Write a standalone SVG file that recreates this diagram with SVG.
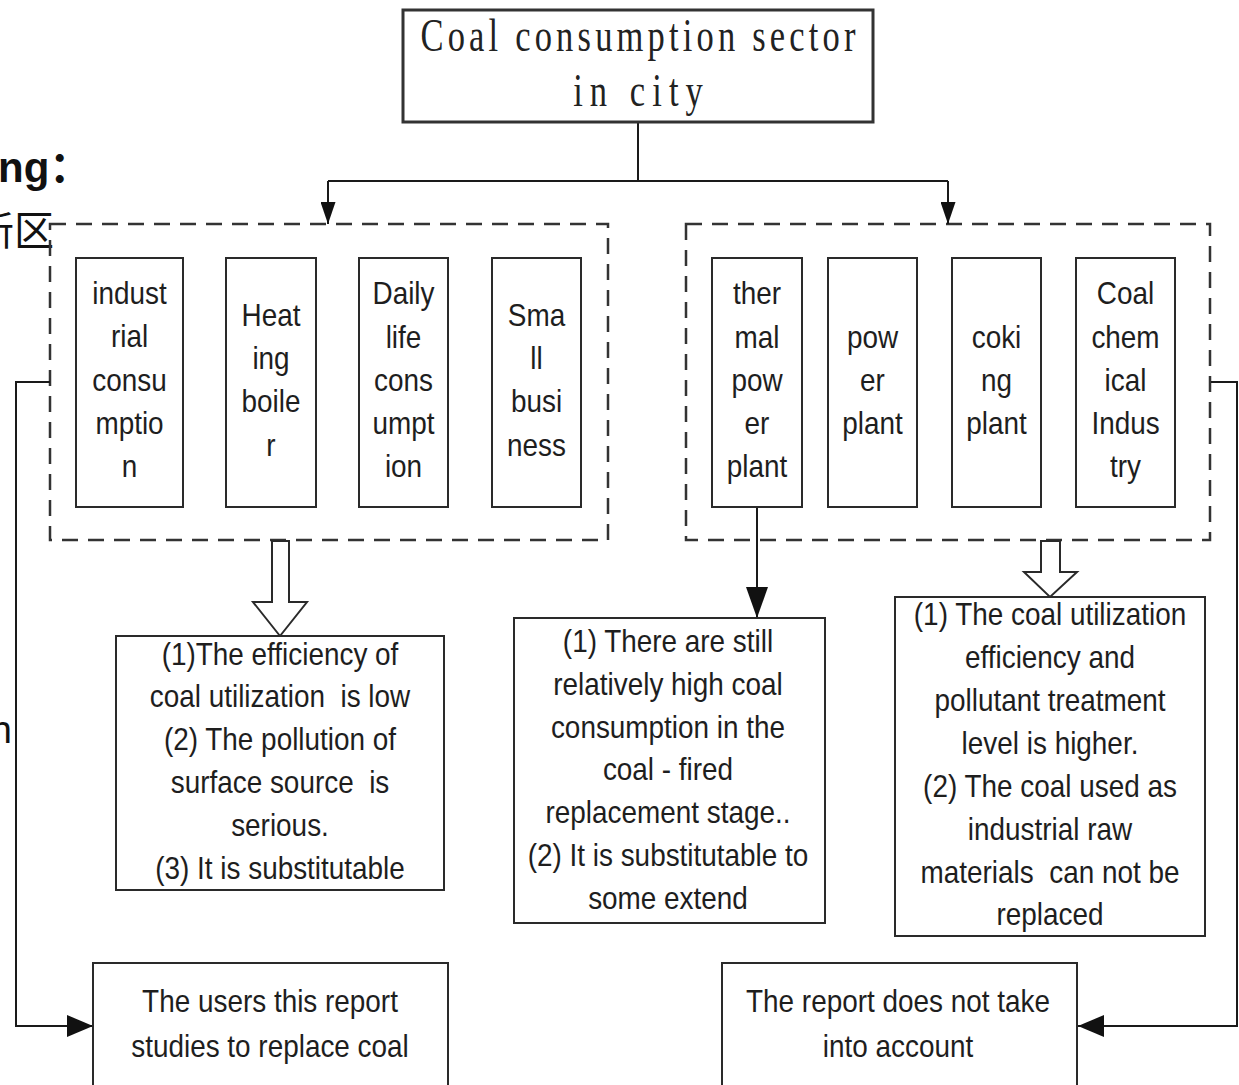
<svg xmlns="http://www.w3.org/2000/svg" width="1239" height="1085" viewBox="0 0 1239 1085">
<style>
.bg{fill:#fff}
.box{fill:#fff;stroke:#2a2a2a;stroke-width:2}
.top{fill:#fff;stroke:#333;stroke-width:3}
.grp{fill:none;stroke:#333;stroke-width:2.5;stroke-dasharray:16 10}
.t{font-family:"Liberation Sans",Arial,sans-serif;font-size:31px;fill:#1e1e1e;text-anchor:middle}
.m{font-family:"Liberation Serif","Times New Roman",serif;font-size:46px;fill:#222;text-anchor:middle}
.conn{fill:none;stroke:#1a1a1a;stroke-width:2}
.hollow{fill:#fff;stroke:#2a2a2a;stroke-width:2;stroke-linejoin:miter}
.edge{font-family:"Liberation Sans",Arial,"Noto Sans CJK SC",sans-serif;fill:#111}
</style>
<defs>
<marker id="arS" markerUnits="userSpaceOnUse" markerWidth="22" markerHeight="15" viewBox="0 0 10 10" refX="10" refY="5" orient="auto" preserveAspectRatio="none"><path d="M0,0 L10,5 L0,10 z" fill="#111"/></marker>
<marker id="arM" markerUnits="userSpaceOnUse" markerWidth="31" markerHeight="22" viewBox="0 0 10 10" refX="10" refY="5" orient="auto" preserveAspectRatio="none"><path d="M0,0 L10,5 L0,10 z" fill="#111"/></marker>
<marker id="arB" markerUnits="userSpaceOnUse" markerWidth="26" markerHeight="22" viewBox="0 0 10 10" refX="10" refY="5" orient="auto" preserveAspectRatio="none"><path d="M0,0 L10,5 L0,10 z" fill="#111"/></marker>
</defs>
<rect class="bg" x="0" y="0" width="1239" height="1085"/>

<g id="edge-text">
<text class="edge" x="-2" y="182" font-size="42" font-weight="bold">ng：</text>
<text class="edge" x="-26" y="245" font-size="40" font-family="'Noto Sans CJK SC',sans-serif">新区</text>
<text class="edge" x="12" y="743" font-size="38" text-anchor="end">n</text>
</g>

<g id="group-left">
<rect class="grp" x="50" y="224" width="558" height="316"/>
</g>
<g id="group-right">
<rect class="grp" x="686" y="224" width="524" height="316"/>
</g>

<g id="connectors">
<path class="conn" d="M638,122 V181"/>
<path class="conn" d="M328,181 H948"/>
<path class="conn" d="M328,181 V224" marker-end="url(#arS)"/>
<path class="conn" d="M948,181 V224" marker-end="url(#arS)"/>
<path class="conn" d="M757,507 V618" marker-end="url(#arM)"/>
<path class="conn" d="M50,382 H16 V1026 H93" marker-end="url(#arB)"/>
<path class="conn" d="M1211,382 H1237 V1026 H1078" marker-end="url(#arB)"/>
<polygon class="hollow" points="272,541 272,602 253,602 280,636 307,602 289,602 289,541"/>
<polygon class="hollow" points="1041,541 1041,572 1024,572 1050,597 1077,572 1060,572 1060,541"/>
</g>

<g id="node-top">
<rect class="top" x="403" y="10" width="470" height="112"/>
<g transform="translate(638 0) scale(0.75 1)">
<text class="m" x="0" y="51" textLength="580" lengthAdjust="spacing">Coal consumption sector</text>
<text class="m" x="0" y="106" textLength="173" lengthAdjust="spacing">in city</text>
</g>
</g>

<g id="node-industrial">
<rect class="box" x="76" y="258" width="107" height="249"/>
<g transform="translate(129.5 0) scale(0.9 1)">
<text class="t" y="304">indust</text><text class="t" y="347">rial</text><text class="t" y="391">consu</text><text class="t" y="434">mptio</text><text class="t" y="477">n</text>
</g>
</g>
<g id="node-heating">
<rect class="box" x="226" y="258" width="90" height="249"/>
<g transform="translate(271 0) scale(0.9 1)">
<text class="t" y="326">Heat</text><text class="t" y="369">ing</text><text class="t" y="412">boile</text><text class="t" y="456">r</text>
</g>
</g>
<g id="node-daily">
<rect class="box" x="359" y="258" width="89" height="249"/>
<g transform="translate(403.5 0) scale(0.9 1)">
<text class="t" y="304">Daily</text><text class="t" y="348">life</text><text class="t" y="391">cons</text><text class="t" y="434">umpt</text><text class="t" y="477">ion</text>
</g>
</g>
<g id="node-small">
<rect class="box" x="492" y="258" width="89" height="249"/>
<g transform="translate(536.5 0) scale(0.9 1)">
<text class="t" y="326">Sma</text><text class="t" y="369">ll</text><text class="t" y="412">busi</text><text class="t" y="456">ness</text>
</g>
</g>

<g id="node-thermal">
<rect class="box" x="712" y="258" width="90" height="249"/>
<g transform="translate(757 0) scale(0.9 1)">
<text class="t" y="304">ther</text><text class="t" y="348">mal</text><text class="t" y="391">pow</text><text class="t" y="434">er</text><text class="t" y="477">plant</text>
</g>
</g>
<g id="node-power">
<rect class="box" x="828" y="258" width="89" height="249"/>
<g transform="translate(872.5 0) scale(0.9 1)">
<text class="t" y="348">pow</text><text class="t" y="391">er</text><text class="t" y="434">plant</text>
</g>
</g>
<g id="node-coking">
<rect class="box" x="952" y="258" width="89" height="249"/>
<g transform="translate(996.5 0) scale(0.9 1)">
<text class="t" y="348">coki</text><text class="t" y="391">ng</text><text class="t" y="434">plant</text>
</g>
</g>
<g id="node-coalchem">
<rect class="box" x="1076" y="258" width="99" height="249"/>
<g transform="translate(1125.5 0) scale(0.9 1)">
<text class="t" y="304">Coal</text><text class="t" y="348">chem</text><text class="t" y="391">ical</text><text class="t" y="434">Indus</text><text class="t" y="477">try</text>
</g>
</g>

<g id="node-desc-left">
<rect class="box" x="116" y="636" width="328" height="254"/>
<g transform="translate(280 0) scale(0.9 1)">
<text class="t" y="665">(1)The efficiency of</text>
<text class="t" y="707" xml:space="preserve">coal utilization  is low</text>
<text class="t" y="750">(2) The pollution of</text>
<text class="t" y="793" xml:space="preserve">surface source  is</text>
<text class="t" y="836">serious.</text>
<text class="t" y="879">(3) It is substitutable</text>
</g>
</g>

<g id="node-desc-mid">
<rect class="box" x="514" y="618" width="311" height="305"/>
<g transform="translate(668 0) scale(0.9 1)">
<text class="t" y="652">(1) There are still</text>
<text class="t" y="695">relatively high coal</text>
<text class="t" y="738">consumption in the</text>
<text class="t" y="780">coal - fired</text>
<text class="t" y="823">replacement stage..</text>
<text class="t" y="866">(2) It is substitutable to</text>
<text class="t" y="909">some extend</text>
</g>
</g>

<g id="node-desc-right">
<rect class="box" x="895" y="597" width="310" height="339"/>
<g transform="translate(1050 0) scale(0.9 1)">
<text class="t" y="625">(1) The coal utilization</text>
<text class="t" y="668">efficiency and</text>
<text class="t" y="711">pollutant treatment</text>
<text class="t" y="754">level is higher.</text>
<text class="t" y="797">(2) The coal used as</text>
<text class="t" y="840">industrial raw</text>
<text class="t" y="883" xml:space="preserve">materials  can not be</text>
<text class="t" y="925">replaced</text>
</g>
</g>

<g id="node-studied">
<rect class="box" x="93" y="963" width="355" height="140"/>
<g transform="translate(270 0) scale(0.9 1)">
<text class="t" y="1012">The users this report</text>
<text class="t" y="1057">studies to replace coal</text>
</g>
</g>

<g id="node-not-considered">
<rect class="box" x="722" y="963" width="355" height="140"/>
<g transform="translate(898 0) scale(0.9 1)">
<text class="t" y="1012">The report does not take</text>
<text class="t" y="1057">into account</text>
</g>
</g>
</svg>
